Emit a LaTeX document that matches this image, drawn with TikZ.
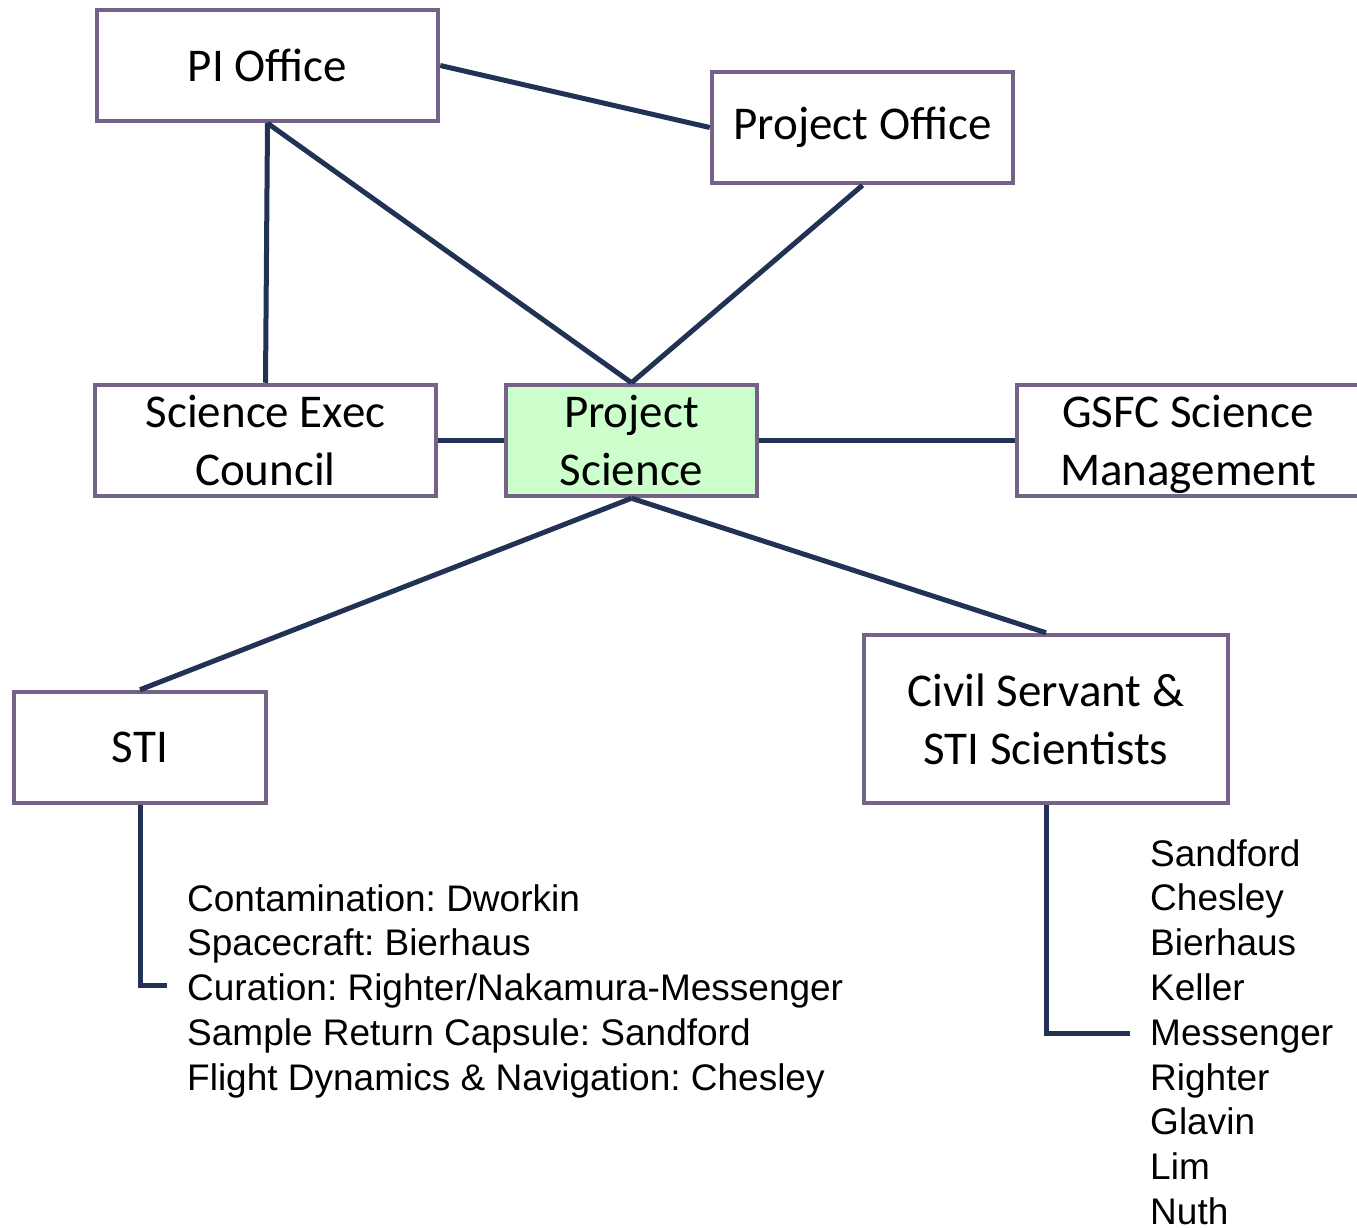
\documentclass[tikz,border=0pt]{standalone}
\usepackage{fontspec}
\setmainfont{Carlito}
\newfontfamily\arialf{Liberation Sans}
\definecolor{boxborder}{RGB}{117,99,135}
\definecolor{linkcol}{RGB}{33,50,85}
\definecolor{psgreen}{RGB}{204,255,204}
\frenchspacing
\begin{document}
\begin{tikzpicture}[x=1pt,y=-1pt,
  box/.style={draw=boxborder, line width=4.5pt, fill=white, inner sep=0pt, align=center,
    font=\fontsize{47}{58}\selectfont},
  link/.style={draw=linkcol, line width=5pt},
  listtext/.style={inner sep=0pt, align=left, anchor=north west,
    font=\arialf\fontsize{37}{44.8}\selectfont}]
\clip (0,0) rectangle (1357,1228);
\fill[white] (0,0) rectangle (1357,1228);

\node[box, minimum width=341pt, minimum height=111pt] (pi) at (267.5,65.5) {PI Office};
\node[box, minimum width=301pt, minimum height=111pt] (po) at (862.5,127.5) {Project Office};
\node[box, minimum width=341pt, minimum height=111pt] (sec) at (265.5,440.5) {Science Exec\\Council};
\node[box, fill=psgreen, minimum width=251pt, minimum height=111pt] (ps) at (631.5,440.5) {Project\\Science};
\node[box, text depth=0pt, minimum width=342pt, minimum height=111pt] (gsfc) at (1188,440.5) {GSFC Science\\Management};
\node[box, minimum width=252pt, minimum height=111pt] (sti) at (140,747.5) {STI};
\node[box, minimum width=364pt, minimum height=168pt] (civ) at (1046,719) {Civil Servant \&\\STI Scientists};

\coordinate (stiend) at (167,985.5);
\coordinate (civend) at (1130,1033);

\draw[link] (pi.east) -- (po.west);
\draw[link] (pi.south) -- (sec.north);
\draw[link] (pi.south) -- (ps.north);
\draw[link] (po.south) -- (ps.north);
\draw[link] (sec.east) -- (ps.west);
\draw[link] (ps.east) -- (gsfc.west);
\draw[link] (ps.south) -- (sti.north);
\draw[link] (ps.south) -- (civ.north);
\draw[link] (sti.south) |- (stiend);
\draw[link] (civ.south) |- (civend);

\node[listtext] (stilist) at (187,884) {Contamination: Dworkin\\
Spacecraft: Bierhaus\\
Curation: Righter/Nakamura-Messenger\\
Sample Return Capsule: Sandford\\
Flight Dynamics \& Navigation: Chesley};

\node[listtext] (civlist) at (1150,839) {Sandford\\
Chesley\\
Bierhaus\\
Keller\\
Messenger\\
Righter\\
Glavin\\
Lim\\
Nuth};
\end{tikzpicture}
\end{document}
